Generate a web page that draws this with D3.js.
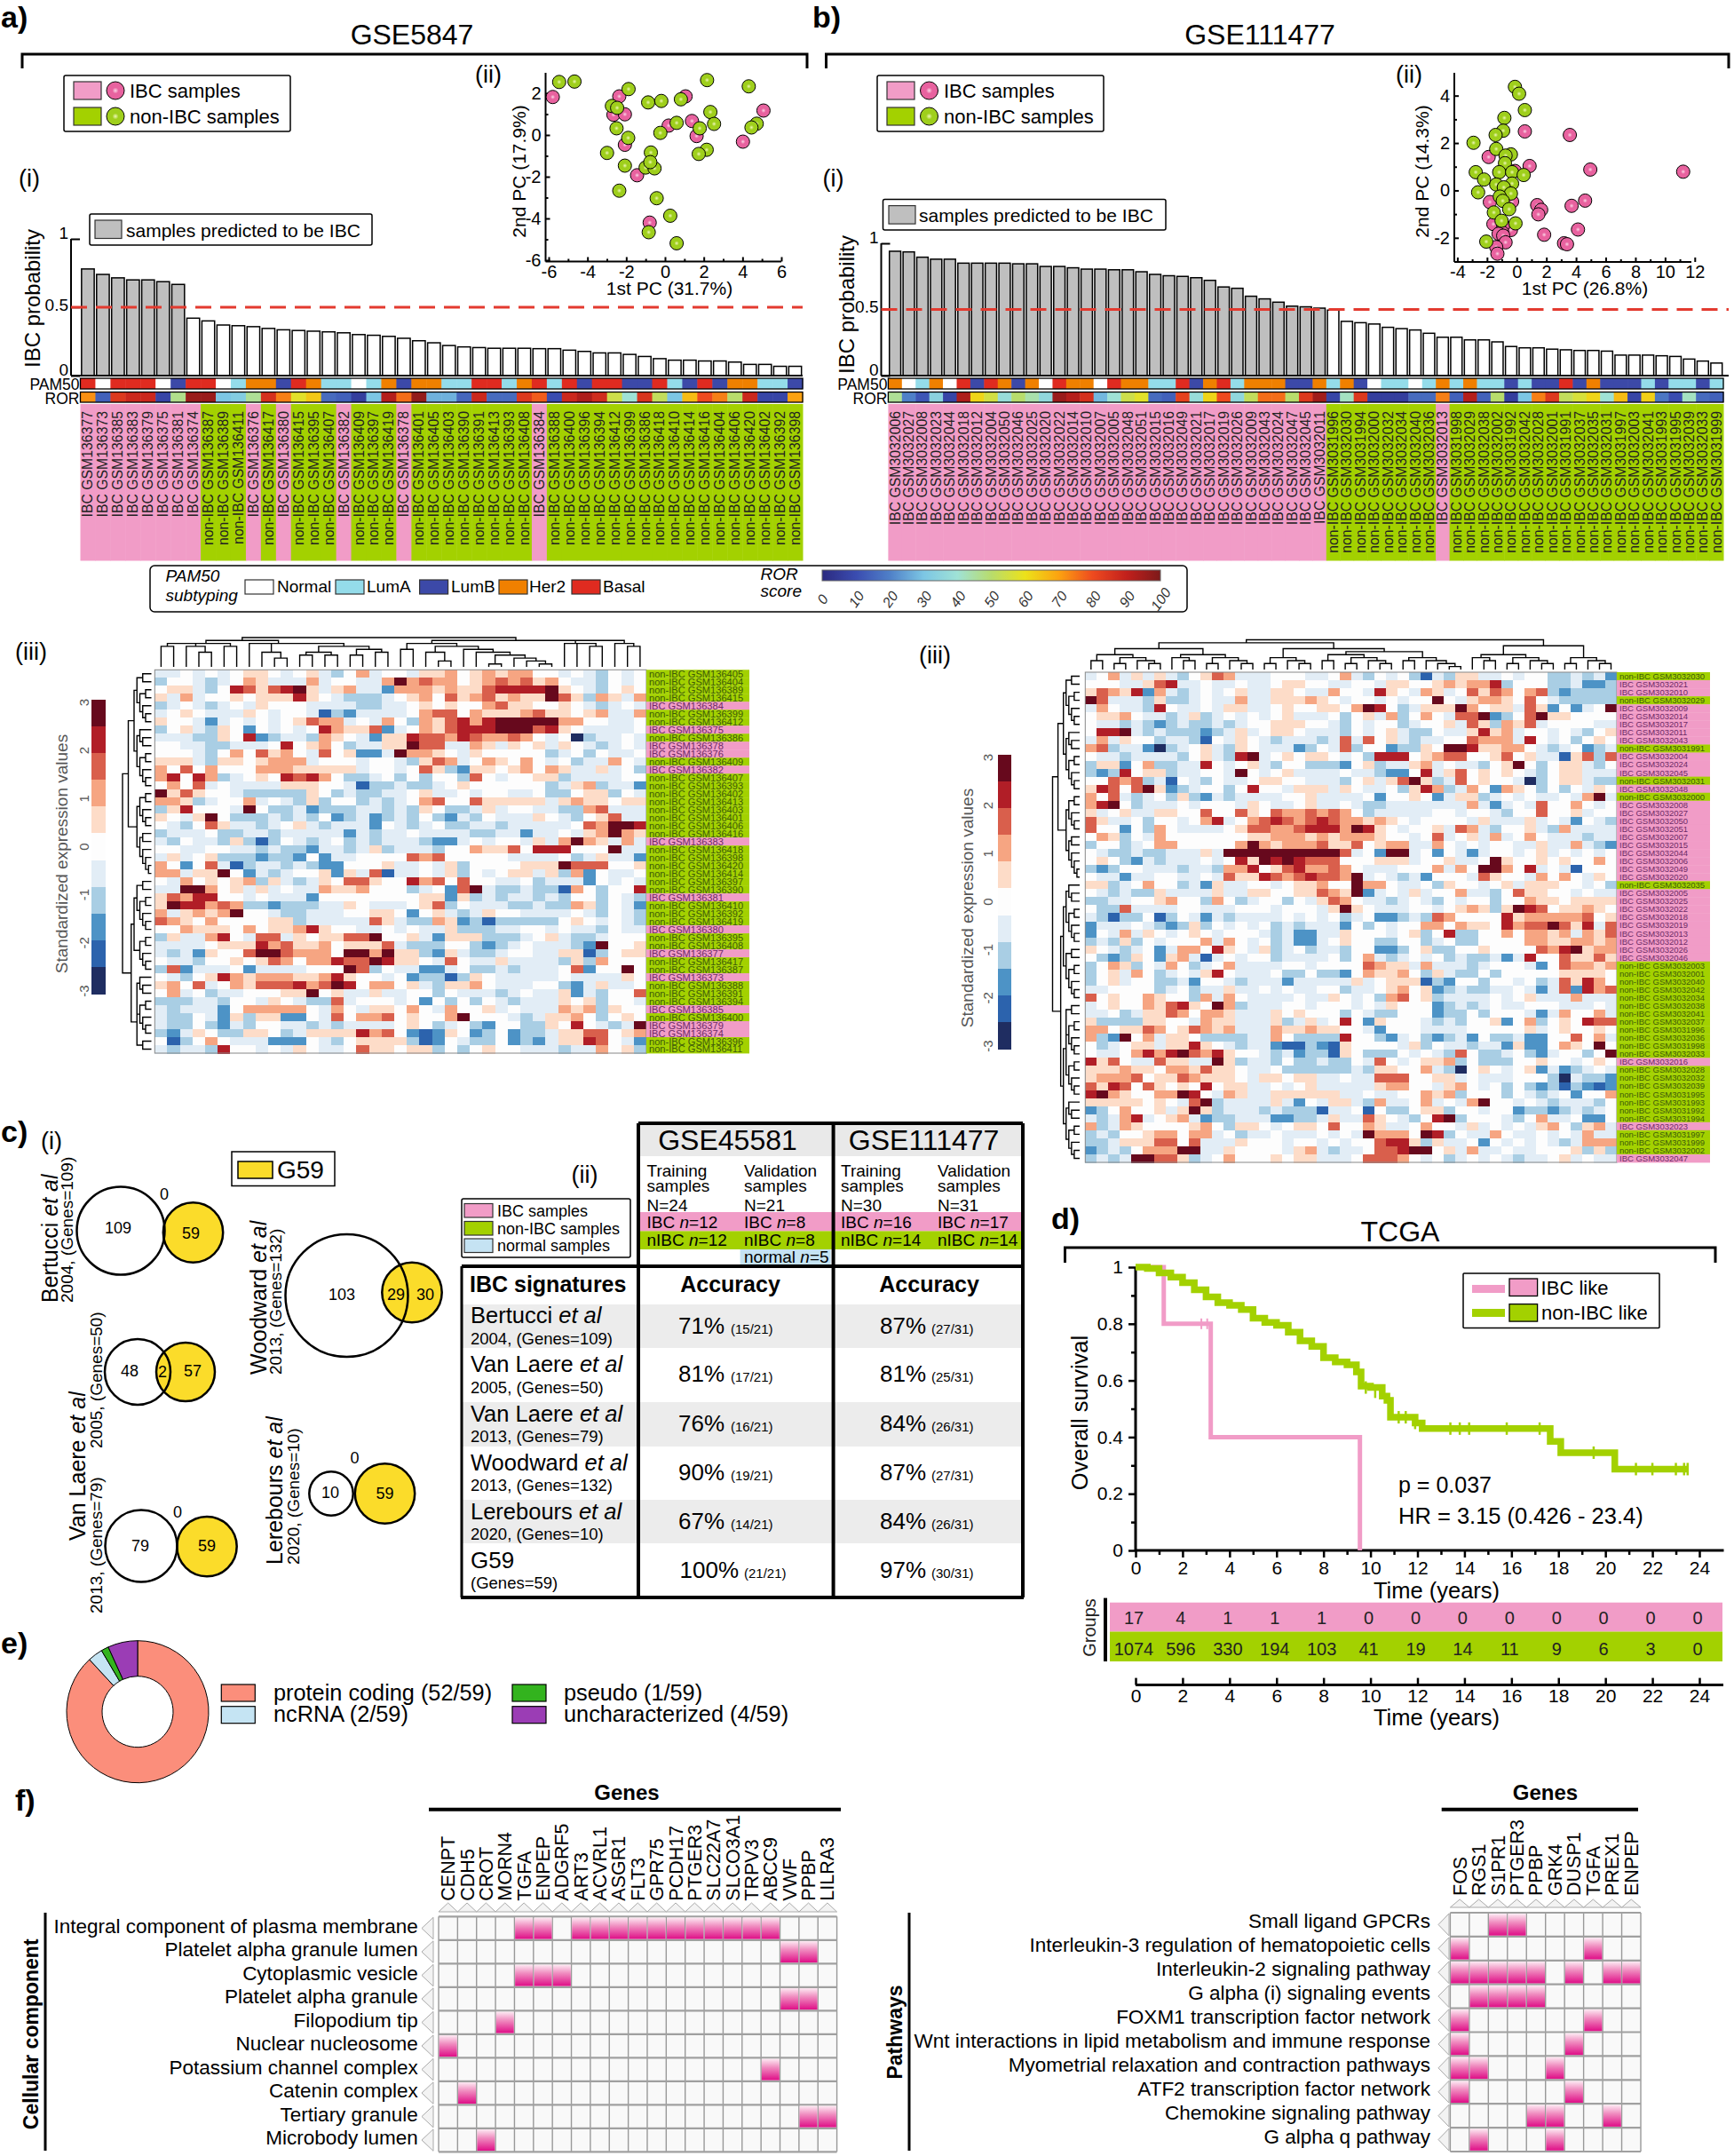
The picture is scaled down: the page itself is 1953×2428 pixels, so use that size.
<!DOCTYPE html>
<html><head><meta charset="utf-8"><style>html,body{margin:0;background:#fff}svg{display:block}</style>
<script src="https://cdnjs.cloudflare.com/ajax/libs/d3/7.8.5/d3.min.js"></script></head><body><svg id="c" width="1953" height="2428"></svg>
<script>
// ---------- DATA ----------
const probA=[.78,.74,.715,.70,.70,.687,.667,.42,.40,.37,.365,.358,.345,.335,.33,.325,.32,.313,.30,.295,.287,.273,.255,.24,.22,.21,.205,.2,.2,.2,.197,.197,.186,.177,.166,.166,.155,.14,.124,.113,.113,.107,.107,.099,.082,.082,.068,.068];
const idsA=[136377,136373,136385,136383,136379,136375,136381,136374,136387,136389,136411,136376,136417,136380,136415,136395,136407,136382,136409,136397,136419,136378,136401,136405,136403,136390,136391,136413,136393,136408,136384,136388,136400,136396,136394,136412,136399,136386,136418,136410,136414,136416,136404,136406,136420,136402,136392,136398];
const pamA="BNBBBNDBBNLHHDBHLLNLHDHHLLBBLHBLBDBBDDBLDBDHHLLD".slice(0,48);
const rorA=[72,14,84,88,88,8,47,96,96,30,32,46,86,74,58,64,16,14,6,30,92,76,97,27,27,15,88,16,16,84,78,10,88,93,87,54,40,85,52,30,66,80,74,50,88,8,8,70];
const probB=[.94,.935,.895,.88,.88,.85,.85,.85,.85,.845,.845,.825,.825,.815,.805,.805,.80,.80,.785,.765,.755,.75,.74,.72,.67,.66,.60,.58,.555,.525,.52,.51,.495,.41,.40,.39,.365,.355,.345,.32,.29,.29,.27,.27,.255,.22,.21,.21,.20,.195,.19,.19,.185,.155,.155,.155,.15,.145,.125,.11,.095];
const idsB=[3032006,3032027,3032008,3032023,3032044,3032018,3032012,3032004,3032050,3032046,3032025,3032020,3032022,3032014,3032010,3032007,3032005,3032048,3032051,3032015,3032016,3032049,3032021,3032017,3032019,3032026,3032009,3032043,3032024,3032047,3032045,3032011,3031996,3032030,3031994,3032000,3032032,3032034,3032040,3032036,3032013,3031998,3032029,3032038,3032002,3031992,3032042,3032028,3032001,3031991,3032037,3032035,3032031,3031997,3032003,3032041,3031993,3031995,3032039,3032033,3031999];
const ibcB=new Set(idsB.slice(0,32).concat([3032013,3032016]));
const pamB="HNLHNBDBHDHNBHHNBHHLLBDHBLHHHDDHLHDNLLNLHLHLLDLDDBDHDDDLDLLDL";
const rorB=[46,20,12,34,8,93,62,55,38,50,44,36,96,92,86,28,40,54,58,16,14,82,38,62,80,36,52,76,76,50,84,95,8,42,84,6,6,6,16,16,74,14,92,14,50,6,30,74,84,52,56,62,40,66,8,63,18,10,42,16,14];
const pcaAPink=[[-5.79,1.82],[-2.36,1.85],[-2.66,.97],[-2.07,.99],[1.06,1.85],[-2.07,-.47],[.19,.45],[1.39,.67],[1.63,-.05],[5.08,1.17],[4.02,-.32],[-1.44,-1.93],[-.79,-4.2]];
const pcaAGreen=[[-5.46,2.54],[-4.67,2.56],[-1.88,2.2],[-2.74,1.39],[-2.47,1.3],[-.87,1.56],[-.19,1.63],[.82,1.71],[2.17,2.63],[4.32,2.33],[2.34,1.1],[-2.5,.32],[-1.9,-.14],[.6,.58],[-.24,.1],[1.79,.32],[2.53,.53],[4.73,.54],[4.46,.36],[-2.99,-.86],[-.73,-.84],[2.15,-.71],[1.74,-.91],[-2.07,-1.47],[-1,-1.56],[-.54,-1.6],[-.76,-1.3],[-2.36,-2.67],[-.43,-3.03],[.27,-3.87],[-.84,-4.66],[.6,-5.19]];
const pcaBPink=[[.55,2.49],[3.58,2.34],[-1.89,1.41],[.87,1.03],[4.96,.88],[11.22,.79],[-.12,.82],[-1.81,-.49],[-.31,-.47],[4.61,-.43],[3.7,-.65],[1.38,-.62],[1.65,-.82],[1.46,-1.01],[-1.57,-1.42],[-.39,-1.67],[4.13,-1.65],[-.91,-1.47],[-.98,-1.77],[1.85,-1.87],[-1.22,-1.83],[-.91,-1.91],[-.75,-2.19],[3.19,-2.23],[3.39,-2.27],[-1.38,-2.39],[-1.3,-2.67]];
const pcaBGreen=[[-.12,4.37],[.16,4.08],[.55,3.39],[-.83,3.06],[-.91,2.52],[-1.42,2.34],[-2.91,2.01],[-1.38,1.75],[-.39,1.52],[-.75,1.47],[-.79,1.15],[-1.18,.77],[-.31,.77],[-2.76,.77],[.47,.65],[-2.2,.46],[-.31,.29],[-1.38,.25],[-.87,.13],[-2.6,-.08],[-.39,-.13],[-1.14,-.26],[-.94,-.44],[-.51,-.79],[-1.54,-.93],[-.08,-1.39],[-1.02,-1.28],[-2.05,-2.16]];
const heatA=["aa0a0 a0110 a01ab 02a00 a1120 12122 00a0a b0a0","b00ab a021a aa2a0 0aa25 23220 12323 120aa b0a0","011ab 04313 451a1 2aac2 22121 13444 4510a b010","1a2a0 01011 1410a bbba0 12031 23121 1531b 21a2","ba0ab a0a10 00aaa abbaa 01010 02311 0010a ba0a","a010a aa10a 00adb caaaa 02330 21112 31101 2aa2","100ac a0a0a 01322 a0a20 b2134 24555 55220 0aa0","b01ab 10c0a 0a042 113ca 02134 44555 3410a aaa0","aaabb 104cb aab21 0ac11 43324 32232 0a0eb aa0a","00aab baaa0 40120 baa11 533aa 21a10 1a10a ba0a","000ab 02031 20a30 1cca5 2210a 10000 0ba0b 0aa0","111ab 11012 22a00 0a00a b132a 02102 0a0ba a20a","20302 00022 21111 1a00a 031bc 11012 021aa 1a0b","24042 ba010 43420 bba0b 0b00b 30a00 11baa aa00","0203a 0aaaa 11100 adbba bba01 00000 0ba12 baac","51310 0abbb bb10b abbaa 01aa0 a00aa 0bb01 1b0a","221ba 002a0 ab1b0 0baba 02300 31111 1a121 1011","b1400 0a50b bacbb baaba b10bb a1a00 aabb2 3aaa","10a15 0bbba bab0c bacba b0bca b0aaa 10ab0 13aa","0ab03 1aaba 01aba aac0a ba0bb aabaa aaa03 2554","baaa0 bbaab aaaaa cabaa 0aaaa bbaac aa0a1 2521","ab0aa b1bdb 0aba0 babaa abcca 0a00a 1a252 1a2a","00aa0 0aaba bbcaa ba1ba aab00 21130 44400 05aa","a1a01 bbbcb bc0ca a0000 32300 000aa aa0ba 1aac","20c03 adbaa babcc 0001a a0a1b 00001 11533 3001","22a11 50cab a001c 1a3da a0a1b 0a011 a1b2c 0aa0","0a201 012b1 aba10 33100 42303 00aa0 baaac 0a0a","aa552 01a1a 0aa21 12000 ba0c3 5abba bbd20 b004","13244 00a0a aac00 00000 011c1 babaa bab00 b0ab","15442 32bbc bbbaa 10aaa 013b0 aaabb abb21 b0ac","2a121 2500a bbaaa 00110 c01ab a100a aaa0a b0ab","32102 00001 1baaa aa31a bb21c bdbbb bb010 a0ab","00211 10201 12410 0aa0a 0aa1b bbaa0 0a0aa b0aa","b1aa2 40a33 a1011 33500 1ac11 1bbba 01abb a000","aaaa0 11142 31120 1113a bbb00 bcba0 aaabc 5001","abac1 00355 32220 55251 1bc1a bba00 aa11d b011","0aab0 01013 20224 33541 10a30 aa1aa aab1b 2000","b3caa a0caa aa000 53b0a acca0 bbaba aa03c 0050","0ab01 42122 21124 100a0 cbbdb 10aaa aa0aa aa10","1203a 02133 34235 40220 1ab11 20aaa 00bca 1aa0","02a0b aa000 11501 aa1aa 00b0a aaba0 aa1ca b003","bbbaa b00a1 0abb3 a000a 0c0b0 b0aba aa101 b00a","abaaa c0222 220a2 0a110 20a20 01a0a aa212 b100","abb0a c1b11 cc0a3 02230 10025 000ab a1120 b010","abb0b cab00 aabab aaaa0 10ba0 bc00b b1040 aba5","bca10 bb110 ba111 14230 cdc10 cb0cb ba113 3012","0db02 0aaac cc0ab 01111 bdc0a bb0cb ca114 30ac","abaab 400a0 a10aa 03110 11b0b 0100a aabaa 201b"];
const heatB=["a02a1 a1ab0 132aa a000a a02ab 0a0bd ab11a a0a00 bbaba c","000aa 134aa 0aa0a a0110 0aa00 a1100 12122 4b000 bbacc b","13214 c2aba 0a01a a110a a200a 410a2 1a031 32023 bcbbb b","53aaa b1bba 0aa2a a1112 10a00 a0a00 50a12 21030 abbbb b","a20aa b40aa 0a11a a0100 11025 40ba1 11520 11a31 c0ca0 5","01120 aaba1 ba0a0 a01aa a0b01 a2b02 0a335 cb035 11000 0","0aaba bcbab baba0 01110 0ab0a 00ba0 01a31 b213a 0000a a","0445a babbb cba1a 0110a aab0a 01abb 0aa14 12a00 a0ab0 1","a2a10 0baab d0a10 abaaa ba3a3 01aba a0032 22a40 a0b01 0","23baa ceba0 1ab10 aaacb 0a3b0 0cbb1 05541 1220a ba0cb a","0aaba aaab0 1ab45 a0101 10a0b 44401 23300 1301a ad13b 3","b11c0 2bbaa 40a01 ab00b bbc01 baa12 a0aab 0150b 011ab 0","bcb40 11baa 00a50 a01aa aa0aa bcc04 a1301 010ab 011aa a","00323 bad0a b0aa0 1100a aab01 a1351 ba301 00aeb 011ab b","14303 51cba 00b04 00a11 1a10a a0b14 2ba20 c210b 0b0a1 0","203ab a0b1b cabaa aa001 aaaa0 c0010 ca11b a0a0a a0a25 a","2450b aaa0a 000a1 0aa01 aa0ab baaaa aaa2a ca0a3 0020a 0","1a01a a1100 30031 03223 2320b aaaaa 00a00 ab003 001a0 0","31aa0 b00a0 24a02 34323 43221 210a0 000a1 aaa1a 0ac0a b","300c0 b20aa aa013 32234 44254 10a00 1a32a b001a b2aaa a","021b0 a2000 00001 12221 21222 100a0 3a01a 2a020 aaaba a","b00ba 02200 00025 21222 31130 122aa 20a0a 00aa1 aa2ab c","0abba bbaaa 1a555 55555 553a0 c55a0 c0aca 00a01 a0a0a 0","010bc abaaa 0a041 54543 33000 111a0 01aa0 51001 01002 0","bcb00 aaaba ab224 01342 2320a aa000 2a205 5204a 0ad00 0","0aaca a00aa 0a311 43234 3325a 0abac 000a3 100a2 020a1 0","11ba0 200ba c1aa0 0a011 20052 20aa0 b100a 01a11 100a0 b","0abab b1aaa a1aa1 10011 3215c a0a1a 002aa b0311 00a0a a","bbaa0 01200 b20ba 00b0a 1320a aba0a b0a00 b0021 10111 1","0bb3a aaa00 aaa00 0a000 a1510 aaa00 a0121 b1543 01121 0","abdbb 0db0a cabaa aa0a0 a0ba0 ccbab 32000 04122 22230 1","caaa0 abcb1 b0a0a 0baba aac0b 0a002 20211 04233 5314a 3","c0a2a 10a01 0a000 abacc aa100 0a01b 04bb0 02022 12a21 3","bab1b 0a000 2a20a 0bacc a0100 bb00b a0bb0 00022 11221 2","10aba 0ca22 0410a 1ba0b aab00 ccb01 bb001 00003 24512 2","0bcb1 0c12a da0a0 0baaa a0b02 aba0a 0babb aca40 03113 1","b021b 0a20b a02aa aa00a 00003 211a2 aaaba 000ac 03221 2","b01a2 0ba0a 140aa a0bb0 bbc02 1120b 1abb0 b0000 01111 0","b01a0 0bbac 00aba aacaa aaa1a 0111d bc00b 00a0b a3142 0","aa000 0ba0b aa1aa 0a0aa 00baa 01201 cbabb aa0ac a3c42 3","30100 2100b 2a20a aaa0a a10a0 b2301 baaaa 0a01a aa2aa a","a0100 21341 052ba aa00a 000a0 a1000 cbaba 0aa00 0aaa0 a","aa0ba 11320 221aa a1010 00b0a bb000 cbb0b 000ac a2002 a","1bbbb 1100a 211aa a1ba1 a040c 1000a bab00 1c02b 01043 3","22011 32013 212aa a2112 1100a c000a aaa00 0001a 01001 0","2bc50 2a110 bbbba a20bb bb400 bca0b cbac0 bbacc 00302 a","0ba01 1a114 10aba acddb cd100 00a1b 0aaba ac1cc 02105 0","0aa02 42453 24100 abacb bd10b bb0a0 ab30b ba0bc a00b0 5","4130a a311a a51ba ab0bb abb0a 30a01 12b0b bb001 00a01 0","11121 10221 3110a a0bbb bbbab 11002 abe01 0a01c acba0 a","12223 01132 1110a 11011 aa0aa 33300 11a0a aa000 beabb c","31430 31010 4011a a0a01 aaaaa 12200 a120a 0b0bc bdbcd c","45210 02254 0a21a a1111 11aa0 aa002 12b00 0b0ab a0c00 2","11111 010a3 5baaa a1ac0 a11ab 2aa02 a0a25 00a0a baaab 0","cb020 01a15 1baaa babbb daa0d 0bb01 1b00a 00cbb cbaba 0","aba24 a012a cbbaa accbb a1aa3 10ab0 45b00 0ab02 aa0cc 0","2ba21 00001 20b11 0a011 03002 1aa02 00a1a 0a0a1 20b12 a","bab00 12202 2a0ba a0aaa 0a0a5 22205 4b0aa 20aa0 a0a2a a","bba11 13303 aaa10 00a00 a0a00 3441b 1aa0c 0a0a0 aba22 2","cbab0 22255 aa100 00a12 abaa0 33455 01a2a a0aa0 001b1 b","baba5 5331b a0200 01011 aaa03 3320a 0ba0a 0abaa 01a0a a"];
const heatLabelsA=[136405,136404,136389,136415,136384,136399,136412,136375,136386,136378,136376,136409,136382,136407,136393,136402,136413,136403,136401,136406,136416,136383,136418,136398,136420,136414,136397,136390,136381,136410,136392,136419,136380,136395,136408,136377,136417,136387,136373,136388,136391,136394,136385,136400,136379,136374,136396,136411];
const heatLabelsB=[3032030,3032021,3032010,3032029,3032009,3032014,3032017,3032011,3032043,3031991,3032004,3032024,3032045,3032031,3032048,3032000,3032008,3032027,3032050,3032051,3032007,3032015,3032044,3032006,3032049,3032020,3032035,3032005,3032025,3032022,3032018,3032019,3032013,3032012,3032026,3032046,3032003,3032001,3032040,3032042,3032034,3032038,3032041,3032037,3031996,3032036,3031998,3032033,3032016,3032028,3032032,3032039,3031995,3031993,3031992,3031994,3032023,3031997,3031999,3032002,3032047];
// dendrograms: nested merges, each ")" followed by its merge height (base 36)
const A7="((..)3((..)2(.(..)2)3)4)5",B8="((.(..)3)4((..)2(.(..)2)3)4)5",C5="((..)2(.(..)2)3)4",D6="((..)3(.(.(..)1)2)3)4";
const T1="(((..)7(.(..)5)7)8(..)7)8",T2="(.((.(..)3)5(((..)4(..)4)5((..)4(..)5)6)7)8)8",T3="((..)6((.(..)2)5(.(.((..)1(.(.(..)1)2)3)4)5)6)7)8",T4="((.(.(..)7)8)8(.(..)7)8)9";
const treeTopA=`((${T1}${T2})9(${T3}${T4})9)a`;
const treeLeftA=`(((${A7}${B8})6(${C5}${D6})5)8((${A7}${C5})6(${B8}(..)3)5)7)a`;
const treeTopB=`(((${A7}${B8})7(${C5}(${A7}${D6})6)7)9(${B8}${C5})8)a`;
const treeLeftB=`(((${A7}${B8})6(${C5}${D6})5)8((${B8}${A7})6((${A7}${C5})5${B8})6)7)a`;
const vennData=[{a:"109",b:"59",mid:"0"},{a:"48",b:"57",mid:"2"},{a:"79",b:"59",mid:"0"},{a:"103",b:"30",mid:"29"},{a:"10",b:"59",mid:"0"}];
const sigNames=["Bertucci","Van Laere","Van Laere","Woodward","Lerebours","G59"];
const sigSub=["2004, (Genes=109)","2005, (Genes=50)","2013, (Genes=79)","2013, (Genes=132)","2020, (Genes=10)","(Genes=59)"];
const accA=["71%","81%","76%","90%","67%","100%"],fracA=["(15/21)","(17/21)","(16/21)","(19/21)","(14/21)","(21/21)"];
const accB=["87%","81%","84%","87%","84%","97%"],fracB=["(27/31)","(25/31)","(26/31)","(27/31)","(26/31)","(30/31)"];
const kmPink=[[0,1],[1.2,.8],[3.2,.4],[9.55,0]];
const kmPinkCensor=[[2.8,.8],[3.05,.8]];
const kmGreen=[[0,1],[.5,.995],[1,.98],[1.5,.965],[2,.945],[2.5,.92],[3,.895],[3.5,.875],[4,.865],[4.5,.85],[5,.82],[5.5,.805],[6,.795],[6.5,.77],[7,.74],[7.5,.72],[8,.68],[8.5,.665],[9,.655],[9.4,.63],[9.6,.58],[10,.575],[10.5,.545],[10.7,.53],[10.85,.47],[11.5,.47],[11.9,.45],[12.2,.43],[17.65,.385],[18.1,.345],[20.4,.287],[23.5,.287]];
const kmGreenCensor=[[9.8,.575],[10.2,.56],[11.2,.47],[11.5,.47],[11.9,.45],[13.4,.43],[13.8,.43],[14.2,.43],[15.8,.43],[17.2,.43],[19.5,.345],[21.3,.287],[22,.287],[23,.287],[23.35,.287],[23.5,.287]];
const riskTimes=[0,2,4,6,8,10,12,14,16,18,20,22,24];
const riskPink=[17,4,1,1,1,0,0,0,0,0,0,0,0];
const riskGreen=[1074,596,330,194,103,41,19,14,11,9,6,3,0];
const geneTypes=[{n:"protein coding (52/59)",v:52,c:"#fb8e7b"},{n:"ncRNA (2/59)",v:2,c:"#c5e4f3"},{n:"pseudo (1/59)",v:1,c:"#33b31e"},{n:"uncharacterized (4/59)",v:4,c:"#9b3db5"}];
const genesCC=["CENPT","CDH5","CROT","MORN4","TGFA","ENPEP","ADGRF5","ART3","ACVRL1","ASGR1","FLT3","GPR75","PCDH17","PTGER3","SLC22A7","SLCO3A1","TRPV3","ABCC9","VWF","PPBP","LILRA3"];
const termsCC=["Integral component of plasma membrane","Platelet alpha granule lumen","Cytoplasmic vesicle","Platelet alpha granule","Filopodium tip","Nuclear nucleosome","Potassium channel complex","Catenin complex","Tertiary granule","Microbody lumen"];
const hitsCC=[[4,5,7,8,9,10,11,12,13,14,15,16,17],[18,19],[4,5,6],[18,19],[3],[0],[17],[1],[19,20],[2]];
const genesPW=["FOS","RGS1","S1PR1","PTGER3","PPBP","GRK4","DUSP1","TGFA","PREX1","ENPEP"];
const termsPW=["Small ligand GPCRs","Interleukin-3 regulation of hematopoietic cells","Interleukin-2 signaling pathway","G alpha (i) signaling events","FOXM1 transcription factor network","Wnt interactions in lipid metabolism and immune response","Myometrial relaxation and contraction pathways","ATF2 transcription factor network","Chemokine signaling pathway","G alpha q pathway"];
const hitsPW=[[2,3],[0,7],[0,1,2,3,4,6,8,9],[1,2,3,4],[0,7],[0,6],[0,1,5],[0,6],[4,5,8],[1,5]];
// ---------- STYLE ----------
const F="'Liberation Sans',Arial,sans-serif";
const PINK="#f19cc7",GREEN="#a3d100",YEL="#fbdc2a";
const PAM={N:"#ffffff",L:"#94dcea",D:"#3c49a8",H:"#f08000",B:"#e02b20"};
const rorScale=d3.scaleLinear().domain([0,10,20,30,40,50,60,70,80,90,100]).range(["#2b2a80","#3a4cb0","#4f80c8","#7cc6e4","#9fe2d6","#b8dc6c","#ece21a","#fca210","#ee4a1f","#c2201c","#7d1a1a"]);
const levels=["e","d","c","b","a","0","1","2","3","4","5"];
const heatColor=d3.scaleOrdinal(levels,["#1f2d61","#2c63ad","#4d93c6","#a9cee4","#e2edf6","#fdfdfd","#fddcc8","#f6a582","#d95f4c","#b11e27","#67091d"]);
const svg=d3.select("#c").attr("font-family",F);
const defs=svg.append("defs");
function radial(id,c0,c1){const g=defs.append("radialGradient").attr("id",id);g.append("stop").attr("offset","0").attr("stop-color",c0);g.append("stop").attr("offset",".35").attr("stop-color",c1);g.append("stop").attr("offset","1").attr("stop-color",c1);}
radial("ptP","#fbd6e6","#e8629f");radial("ptG","#eef7b8","#9fcf1c");
const gg=defs.append("linearGradient").attr("id","hit").attr("x1",0).attr("x2",0).attr("y1",0).attr("y2",1);
[[0,"#fdeaf3"],[.4,"#f08dc0"],[1,"#df0e87"]].forEach(s=>gg.append("stop").attr("offset",s[0]).attr("stop-color",s[1]));
const rg=defs.append("linearGradient").attr("id","ror");
d3.range(0,101,5).forEach(v=>rg.append("stop").attr("offset",v+"%").attr("stop-color",rorScale(v)));
function T(x,y,s,size,o={}){const t=svg.append("text").attr("font-size",size).attr("fill",o.fill||"#000").attr("text-anchor",o.a||"start");
 t.attr("transform",`translate(${x},${y})`+(o.rot?` rotate(${o.rot})`:""));
 if(o.w)t.attr("font-weight",o.w);if(o.i)t.attr("font-style","italic");
 if(Array.isArray(s))s.forEach(p=>{const q=t.append("tspan").text(p[0]);if(p[1])q.attr("font-style","italic");});else t.text(s);return t;}
function R(x,y,w,h,fill,o={}){return svg.append("rect").attr("x",x).attr("y",y).attr("width",w).attr("height",h).attr("fill",fill).attr("stroke",o.s||"none").attr("stroke-width",o.sw||1).attr("rx",o.rx||0);}
function L(x1,y1,x2,y2,w=2,c="#000"){return svg.append("line").attr("x1",x1).attr("y1",y1).attr("x2",x2).attr("y2",y2).attr("stroke",c).attr("stroke-width",w);}
function bracket(x1,x2,y,y2){svg.append("path").attr("d",`M${x1},${y2}V${y}H${x2}V${y2}`).attr("fill","none").attr("stroke","#000").attr("stroke-width",3);}
function axis(orient,scale,pos,vals,o){const gen=d3[orient](scale).tickValues(vals).tickSize(o.len).tickSizeOuter(0).tickPadding(o.pad==null?4:o.pad).tickFormat(o.blank?"":(d=>String(d)));
 const vertical=orient=="axisLeft"||orient=="axisRight";
 const g=svg.append("g").attr("transform",vertical?`translate(${pos},0)`:`translate(0,${pos})`).call(gen);
 g.attr("font-family",F).attr("font-size",o.size||20);g.select(".domain").remove();g.selectAll("line").attr("stroke","#000").attr("stroke-width",o.w||2);return g;}
function ell(cx,cy,r,kind){svg.append("circle").attr("cx",cx).attr("cy",cy).attr("r",r).attr("fill",`url(#${kind})`).attr("stroke","#000").attr("stroke-width",1);}
// ---------- PANEL HEADERS ----------
T(1,31,"a)",34,{w:"bold"});T(915,31,"b)",34,{w:"bold"});
T(464,50,"GSE5847",32,{a:"middle"});T(1419,50,"GSE111477",32,{a:"middle"});
bracket(25,909,61,77);bracket(930.5,1947,61,77);
function sampleLegend(bx,bw,sx,cx,tx){R(bx,85,bw,63,"#fff",{s:"#000",sw:1.5,rx:2});
 R(sx,92,31,20,PINK,{s:"#333",sw:1.2});svg.append("ellipse").attr("cx",cx).attr("cy",102).attr("rx",10).attr("ry",10).attr("fill","url(#ptP)").attr("stroke","#000");T(tx,109.5,"IBC samples",22);
 R(sx,121,31,20,GREEN,{s:"#333",sw:1.2});svg.append("ellipse").attr("cx",cx).attr("cy",131).attr("rx",10).attr("ry",10).attr("fill","url(#ptG)").attr("stroke","#000");T(tx,139,"non-IBC samples",22);}
sampleLegend(72,255,83,130,146);sampleLegend(988,255,999,1046.5,1063);
// ---------- PCA ----------
function pca(o){const x=d3.scaleLinear().domain(o.xd).range(o.xr),y=d3.scaleLinear().domain(o.yd).range(o.yr);
 L(o.ax,o.yTop,o.ax,o.ay);L(o.ax,o.ay,o.xEnd,o.ay);
 axis("axisBottom",x,o.ay,o.xt,{len:-5,pad:4,size:20});axis("axisLeft",y,o.ax,o.yt,{len:-5,pad:5,size:20});
 axis("axisBottom",x,o.ay,o.xm,{len:-3,blank:1,pad:0});axis("axisLeft",y,o.ax,o.ym,{len:-3,blank:1,pad:0});
 o.pink.forEach(d=>ell(x(d[0]),y(d[1]),7.5,"ptP"));o.green.forEach(d=>ell(x(d[0]),y(d[1]),7.5,"ptG"));
 T(o.lx,332,o.xl,21,{a:"middle"});T(o.ylx,193,o.yl,21,{a:"middle",rot:-90});}
pca({xd:[-6,6],xr:[618,880],yd:[-6,3],yr:[293,81.5],ax:614.5,ay:294.5,yTop:82,xEnd:880,xt:[-6,-4,-2,0,2,4,6],yt:[-6,-4,-2,0,2],xm:[-5,-3,-1,1,3,5],ym:[-5,-3,-1,1],pink:pcaAPink,green:pcaAGreen,lx:754,xl:"1st PC (31.7%)",ylx:592,yl:"2nd PC (17.9%)"});
pca({xd:[-4,12],xr:[1641.4,1908.8],yd:[-3,5],yr:[294.5,81],ax:1638,ay:295,yTop:82,xEnd:1905,xt:[-4,-2,0,2,4,6,8,10,12],yt:[-2,0,2,4],xm:[-3,-1,1,3,5,7,9,11],ym:[-1,1,3],pink:pcaBPink,green:pcaBGreen,lx:1785,xl:"1st PC (26.8%)",ylx:1609,yl:"2nd PC (14.3%)"});
T(535,93,"(ii)",27);T(1572,93,"(ii)",27);T(21,210,"(i)",27);T(926.6,210,"(i)",27);
// ---------- BARS + STRIPS ----------
function bars(o){const x=d3.scaleBand().domain(d3.range(o.prob.length)).range(o.xr);const bw=o.barW,pad=(x.bandwidth()-bw)/2;
 const y=d3.scaleLinear().domain([0,1]).range([o.y0,o.y1]);
 R(o.lbx,o.lby,o.lbw,o.lbh,"#fff",{s:"#000",sw:1.5,rx:2});R(o.lsx,o.lby+7,30,20.5,"#bfbfbf",{s:"#333",sw:1.2});T(o.ltx,o.lby+25.5,"samples predicted to be IBC",21);
 svg.append("g").selectAll("rect").data(o.prob).join("rect").attr("x",(d,i)=>x(i)+pad).attr("width",bw).attr("y",d=>y(d)).attr("height",d=>y(0)-y(d))
  .attr("fill",d=>d>=.5?"#bfbfbf":"#fff").attr("stroke","#000").attr("stroke-width",1.5);
 L(o.ax,o.y1,o.ax,o.y0);L(o.ax,o.y0,o.xEnd,o.y0);
 const ga=axis("axisLeft",y,o.ax,[0,.5,1],{len:-10,pad:3,size:19});ga.selectAll(".tick line").filter(d=>d==.5).attr("opacity",.6);
 ga.selectAll(".tick text").attr("y",d=>d==.5?-3:-7);
 L(o.ax,y(.5),o.dashEnd,y(.5),3,"#e33a2f").attr("stroke-dasharray","18,10");
 T(o.tx,o.ty,"IBC probability",24,{a:"middle",rot:-90});
 svg.append("g").selectAll("rect").data(o.pam.split("")).join("rect").attr("x",(d,i)=>x(i)).attr("y",426).attr("width",x.bandwidth()+.5).attr("height",12).attr("fill",d=>PAM[d]);
 R(o.xr[0],426,o.xr[1]-o.xr[0],12,"none",{s:"#000",sw:1.3});
 svg.append("g").selectAll("rect").data(o.ror).join("rect").attr("x",(d,i)=>x(i)).attr("y",441.5).attr("width",x.bandwidth()+.5).attr("height",11.5).attr("fill",d=>rorScale(d));
 R(o.xr[0],441.5,o.xr[1]-o.xr[0],11.5,"none",{s:"#000",sw:1.3});
 T(o.xr[0]-1,438.5,"PAM50",17.5,{a:"end"});T(o.xr[0]-1,455,"ROR",17.5,{a:"end"});
 svg.append("g").selectAll("rect").data(o.ids).join("rect").attr("x",(d,i)=>x(i)).attr("y",455).attr("width",x.bandwidth()+.5).attr("height",176.5).attr("fill",d=>o.ibc(d)?PINK:GREEN);
 svg.append("g").selectAll("text").data(o.ids).join("text").attr("transform",(d,i)=>`translate(${x(i)+x.bandwidth()/2+5.5},463) rotate(-90)`).attr("text-anchor","end").attr("font-size",15.8).attr("fill","#222").text(d=>(o.ibc(d)?"IBC":"non-IBC")+" GSM"+d);}
bars({prob:probA,ids:idsA,pam:pamA,ror:rorA,ibc:d=>d<=136385,xr:[90.5,904],barW:14.3,y0:423,y1:269,ax:80,xEnd:904,dashEnd:904,lbx:101,lby:241,lbw:318,lbh:35,lsx:107,ltx:142,tx:45,ty:336});
bars({prob:probB,ids:idsB,pam:pamB,ror:rorB,ibc:d=>ibcB.has(d),xr:[1000.4,1941],barW:12.8,y0:423,y1:274,ax:992.5,xEnd:1947,dashEnd:1947,lbx:994.5,lby:224.6,lbw:318.5,lbh:34.5,lsx:1001,ltx:1035,tx:962,ty:343});
// ---------- PAM50 / ROR legend ----------
R(169,637,1168,52,"#fff",{s:"#000",sw:1.5,rx:5});
T(186.5,655,"PAM50",19,{i:1});T(186.5,677,"subtyping",19,{i:1});
[["N","Normal",276,312],["L","LumA",378,413],["D","LumB",472.6,508],["H","Her2",562,596],["B","Basal",644,679]].forEach(d=>{R(d[2],653,32,16,PAM[d[0]],{s:"#333",sw:1.2});T(d[3],667,d[1],19);});
T(856.5,653,"ROR",19,{i:1});T(856.5,672,"score",19,{i:1});
R(926,642,381,12,"url(#ror)",{s:"#666",sw:1});
const rorX=d3.scaleLinear().domain([0,100]).range([926,1307]);
d3.range(0,101,10).forEach(v=>T(rorX(v)+5,678,v,16,{a:"middle",rot:-55,i:1,fill:"#333"}));
// ---------- HEATMAPS ----------
function parseTree(s){let i=0,leaf=0;function node(){if(s[i]=="."){i++;return{h:0,idx:leaf++};}i++;const ch=[];while(s[i]!=")"&&i<s.length)ch.push(node());i++;const h=parseInt(s[i],36);i++;return{h,children:ch};}return node();}
function tree(str,pos,hs,vert){const root=d3.hierarchy(parseTree(str));root.eachAfter(n=>{n.p=n.children?d3.mean(n.children,c=>c.p):pos(n.data.idx);});
 const d=[];root.descendants().forEach(n=>{if(!n.children)return;const a=n.children[0],b=n.children[n.children.length-1],H=hs(n.data.h),Ha=hs(a.data.h),Hb=hs(b.data.h);
  d.push(vert?`M${a.p},${Ha}V${H}H${b.p}V${Hb}`:`M${Ha},${a.p}H${H}V${b.p}H${Hb}`);});
 svg.append("path").attr("d",d.join("")).attr("fill","none").attr("stroke","#000").attr("stroke-width",1.4);}
function heat(o){const rows=o.rows.map(r=>r.replace(/ /g,"").split(""));const nc=o.nc;
 const x=d3.scaleBand().domain(d3.range(nc)).range(o.xr),y=d3.scaleBand().domain(d3.range(rows.length)).range(o.yr);
 const g=svg.append("g").attr("shape-rendering","crispEdges");
 g.selectAll("g").data(rows).join("g").attr("transform",(d,i)=>`translate(0,${y(i)})`).selectAll("rect").data(d=>d.slice(0,nc)).join("rect").attr("x",(d,i)=>x(i)).attr("width",x.bandwidth()+.6).attr("height",y.bandwidth()+.6).attr("fill",d=>heatColor(d));
 R(o.xr[0],o.yr[0],o.xr[1]-o.xr[0],o.yr[1]-o.yr[0],"none",{s:"#888",sw:1});
 svg.append("g").selectAll("rect").data(o.labels).join("rect").attr("x",o.xr[1]).attr("y",(d,i)=>y(i)).attr("width",o.lw).attr("height",y.bandwidth()+.4).attr("fill",d=>o.ibc(d)?PINK:GREEN);
 svg.append("g").selectAll("text").data(o.labels).join("text").attr("x",o.xr[1]+3).attr("y",(d,i)=>y(i)+y.bandwidth()/2+o.ls*.36).attr("font-size",o.ls).attr("fill",d=>o.ibc(d)?"#6d2a66":"#3d5a0a").text(d=>(o.ibc(d)?"IBC":"non-IBC")+" GSM"+d);
 tree(o.top,i=>x(i)+x.bandwidth()/2,d3.scaleLinear().domain([0,10]).range(o.topR),true);
 tree(o.left,i=>y(i)+y.bandwidth()/2,d3.scaleLinear().domain([0,10]).range(o.leftR),false);
 const cb=d3.scaleBand().domain(levels.slice().reverse()).range(o.cbY);
 svg.append("g").attr("shape-rendering","crispEdges").selectAll("rect").data(cb.domain()).join("rect").attr("x",o.cbX).attr("y",d=>cb(d)).attr("width",o.cbW).attr("height",cb.bandwidth()+.5).attr("fill",d=>heatColor(d));
 const cbS=d3.scaleLinear().domain([3,-3]).range([o.cbY[0]+3,o.cbY[1]-3]);
 d3.range(-3,4).forEach(v=>T(o.cbT,cbS(v),v,15,{a:"middle",rot:-90,fill:"#555"}));
 T(o.cbL,(o.cbY[0]+o.cbY[1])/2+(o.cbLdy||0),"Standardized expression values",19,{a:"middle",rot:-90,fill:"#555"});}
heat({rows:heatA,nc:39,xr:[174.3,728],yr:[754.3,1186],labels:heatLabelsA,ibc:d=>d<=136385,lw:116,ls:11.1,top:treeTopA,left:treeLeftA,topR:[751,718],leftR:[170.5,138],cbX:103,cbW:16,cbY:[788,1119],cbT:100,cbL:76,cbLdy:8});
heat({rows:heatB,nc:46,xr:[1222.3,1821],yr:[757,1309],labels:heatLabelsB,ibc:d=>ibcB.has(d),lw:105,ls:9.5,top:treeTopB,left:treeLeftB,topR:[754,720.5],leftR:[1216,1185.5],cbX:1124,cbW:15,cbY:[850,1181],cbT:1118,cbL:1096,cbLdy:7});
T(17,743,"(iii)",27);T(1035,747,"(iii)",27);
// ---------- PANEL c ----------
T(1,1286,"c)",34,{w:"bold"});T(46,1294,"(i)",27);
const vennLayout=[{ax:136,ay:1386,ar:49.5,bx:217.5,by:1388,br:33.7,tx:133,ty:1382,ux:215,uy:1388,mx:185,my:1344},
{ax:155,ay:1545,ar:37,bx:209,by:1545,br:33,tx:146,ty:1543,ux:217,uy:1543,mx:183,my:1544},
{ax:159,ay:1741,ar:40.5,bx:233,by:1741.6,br:33.7,tx:158,ty:1740,ux:233,uy:1740,mx:200,my:1702},
{ax:390.5,ay:1459,ar:69,bx:464,by:1455.5,br:33.7,tx:385,ty:1457,ux:479,uy:1457,mx:446,my:1457},
{ax:373,ay:1682,ar:24.7,bx:433.5,by:1682,br:33.7,tx:372,ty:1680,ux:433.5,uy:1681,mx:399.5,my:1641}];
vennLayout.forEach((p,i)=>{const d=vennData[i];
 svg.append("circle").attr("cx",p.ax).attr("cy",p.ay).attr("r",p.ar).attr("fill","#fff");
 svg.append("circle").attr("cx",p.bx).attr("cy",p.by).attr("r",p.br).attr("fill",YEL).attr("stroke","#000").attr("stroke-width",2.5);
 svg.append("circle").attr("cx",p.ax).attr("cy",p.ay).attr("r",p.ar).attr("fill","none").attr("stroke","#000").attr("stroke-width",2.5);
 T(p.tx,p.ty+7,d.a,18,{a:"middle"});T(p.ux,p.uy+7,d.b,18,{a:"middle"});T(p.mx,p.my+7,d.mid,18,{a:"middle"});});
T(65,1467,[["Bertucci "],["et al",1]],25,{rot:-90});T(82,1467,"2004, (Genes=109)",19,{rot:-90});
T(96,1735,[["Van Laere "],["et al",1]],25,{rot:-90});T(115,1631,"2005, (Genes=50)",19,{rot:-90});T(115,1817,"2013, (Genes=79)",19,{rot:-90});
T(300,1548,[["Woodward "],["et al",1]],25,{rot:-90});T(316.5,1548,"2013, (Genes=132)",19,{rot:-90});
T(318,1762,[["Lerebours "],["et al",1]],25,{rot:-90});T(336.5,1762,"2020, (Genes=10)",19,{rot:-90});
R(261,1297,116,38.5,"#fff",{s:"#000",sw:1.5});R(268,1308,39,19,YEL,{s:"#000",sw:1.5});T(312,1327,"G59",28);
T(643.5,1332,"(ii)",27);
R(520,1350,190,66,"#fff",{s:"#000",sw:1.5,rx:2});
[[1355.5,PINK,"IBC samples",1370],[1375.5,GREEN,"non-IBC samples",1390],[1395,"#c5e3f3","normal samples",1409]].forEach(d=>{R(523,d[0],32,15.5,d[1],{s:"#333",sw:1.2});T(560,d[3],d[2],18);});
// table
R(719,1265,433,37,"#e9e9e9");
R(719,1365,433,21.4,PINK);R(719,1386.4,433,20.6,GREEN);R(833.6,1407,102,18.5,"#c5e3f3");
T(819.5,1295,"GSE45581",32,{a:"middle"});T(1040.6,1295,"GSE111477",32,{a:"middle"});
[[728.5,"Training","N=24","IBC ","12","nIBC ","12"],[838,"Validation","N=21","IBC ","8","nIBC ","8"],[947,"Training","N=30","IBC ","16","nIBC ","14"],[1056,"Validation","N=31","IBC ","17","nIBC ","14"]].forEach(c=>{
 T(c[0],1324.5,c[1],19);T(c[0],1341.6,"samples",19);T(c[0],1364,c[2],19);
 T(c[0],1382.7,[[c[3]],["n",1],["="+c[4]]],19);T(c[0],1402.7,[[c[5]],["n",1],["="+c[6]]],19);});
T(838,1422,[["normal "],["n",1],["=5"]],19);
const rowBands=[[1469,1518],[1518,1579],[1579,1629],[1629,1689],[1689,1738],[1738,1795]];
rowBands.forEach((b,i)=>{if(i%2==0&&i<5)R(520,b[0],632,b[1]-b[0],"#ececec");});
T(529,1455,"IBC signatures",25,{w:"bold"});T(822.5,1455,"Accuracy",25,{w:"bold",a:"middle"});T(1046.6,1455,"Accuracy",25,{w:"bold",a:"middle"});
const nameY=[1490,1545,1601,1655.5,1711,1765.6],subY=[1513.6,1569,1624,1679,1734,1789],accY=[1501.6,1556,1612,1667,1722,1777];
sigNames.forEach((n,i)=>{T(530,nameY[i],i<5?[[n+" "],["et al",1]]:n,i<5?25.5:26);T(530,subY[i],sigSub[i],18.5);
 T(i==5?765.5:764,accY[i],accA[i],26);T(i==5?838:823,accY[i],fracA[i],15);T(991,accY[i],accB[i],26);T(1049,accY[i],fracB[i],15);});
L(719,1265,1152,1265,4);L(719,1265,719,1799,4);L(938.6,1265,938.6,1799,4);L(1152,1265,1152,1799,4);L(520,1426,1152,1426,4);L(520,1426,520,1799,3);L(519,1799,1153,1799,4);
// ---------- PANEL d ----------
T(1184,1383.6,"d)",34,{w:"bold"});T(1577,1398,"TCGA",32,{a:"middle"});bracket(1199.5,1932,1405,1422);
const kx=d3.scaleLinear().domain([0,24]).range([1279,1914]),ky=d3.scaleLinear().domain([0,1]).range([1746,1427]);
const even=d3.range(0,25,2),odd=d3.range(1,25,2);
L(1279,1427,1279,1746,3);L(1279,1746,1941.5,1746,3);
axis("axisBottom",kx,1746,even,{len:8,pad:4,size:21,w:2.5});axis("axisBottom",kx,1746,odd,{len:5,blank:1,pad:0,w:2.5});
axis("axisLeft",ky,1279,[0,.2,.4,.6,.8,1],{len:8,pad:6,size:21,w:2.5});axis("axisLeft",ky,1279,[.1,.3,.5,.7,.9],{len:5,blank:1,pad:0,w:2.5});
T(1618,1800,"Time (years)",25.5,{a:"middle"});T(1225,1591,"Overall survival",25.5,{a:"middle",rot:-90});
const step=d3.line().x(d=>kx(d[0])).y(d=>ky(d[1])).curve(d3.curveStepAfter);
svg.append("path").attr("d",step(kmPink)).attr("fill","none").attr("stroke",PINK).attr("stroke-width",5);
kmPinkCensor.forEach(d=>L(kx(d[0]),ky(d[1])-6,kx(d[0]),ky(d[1])+6,2,PINK));
svg.append("path").attr("d",step(kmGreen)).attr("fill","none").attr("stroke",GREEN).attr("stroke-width",7.5);
kmGreenCensor.forEach(d=>L(kx(d[0]),ky(d[1])-7,kx(d[0]),ky(d[1])+7,2.5,GREEN));
R(1648,1434,221,61.5,"#fff",{s:"#000",sw:1.5,rx:1});
L(1658,1451.6,1695,1451.6,9,PINK);R(1700,1440,31.6,19.5,PINK,{s:"#000",sw:1.3});T(1735.6,1457.5,"IBC like",22);
L(1658,1478.5,1695,1478.5,9,GREEN);R(1700,1468.6,31.6,19.5,GREEN,{s:"#000",sw:1.3});T(1736,1486,"non-IBC like",22);
T(1575,1681,"p = 0.037",25);T(1575,1716,"HR = 3.15 (0.426 - 23.4)",25.5);
R(1250,1804.7,690,32.8,PINK);R(1250,1837.5,690,33.5,GREEN);L(1245,1799.6,1245,1871,4);
T(1234,1833,"Groups",20,{a:"middle",rot:-90,fill:"#222"});
riskTimes.forEach((t,i)=>{T(kx(t)-2,1828.5,riskPink[i],20,{a:"middle",fill:"#222"});T(kx(t)-2,1864,riskGreen[i],20,{a:"middle",fill:"#222"});});
L(1279,1897.6,1941,1897.6,3);axis("axisBottom",kx,1897.6,even,{len:-8,pad:4,size:21,w:2.5});
T(1618,1943,"Time (years)",25.5,{a:"middle"});
// ---------- PANEL e ----------
T(1,1862,"e)",34,{w:"bold"});
const pie=d3.pie().value(d=>d.v).sort(null);const arc=d3.arc().innerRadius(40).outerRadius(80);
svg.append("g").attr("transform","translate(155,1927.7)").selectAll("path").data(pie(geneTypes)).join("path").attr("d",arc).attr("fill",d=>d.data.c).attr("stroke","#000").attr("stroke-width",1);
[[0,249.3,1897,308,1915],[1,249.3,1921.7,308,1939],[2,577,1897,635,1915],[3,577,1921.7,635,1939]].forEach(p=>{R(p[1],p[2],38,19,geneTypes[p[0]].c,{s:"#000",sw:1.2});T(p[3],p[4],geneTypes[p[0]].n,25.3);});
// ---------- PANEL f ----------
T(17,2039,"f)",34,{w:"bold"});
function enrich(o){const x=d3.scaleBand().domain(d3.range(o.genes.length)).range(o.xr),y=d3.scaleBand().domain(d3.range(o.terms.length)).range(o.yr);
 T(o.gx,2026.7,"Genes",24,{w:"bold",a:"middle"});L(o.lx[0],2037.7,o.lx[1],2037.7,4);
 svg.append("g").selectAll("text").data(o.genes).join("text").attr("transform",(d,i)=>`translate(${x(i)+x.bandwidth()/2+7.5},${o.gy}) rotate(-90)`).attr("font-size",21.5).text(d=>d);
 svg.append("g").selectAll("path").data(o.genes).join("path").attr("d",(d,i)=>`M${x(i)},${o.ty[1]}L${x(i)+x.bandwidth()/2},${o.ty[0]}L${x(i)+x.bandwidth()},${o.ty[1]}Z`).attr("fill","#f3f3f3").attr("stroke","#aaa");
 R(o.xr[0],o.yr[0],o.xr[1]-o.xr[0],o.yr[1]-o.yr[0],"#f9f9f9");
 d3.range(o.genes.length+1).forEach(i=>{const X=i<o.genes.length?x(i):o.xr[1];L(X,o.yr[0],X,o.yr[1],1.4,"#999");});
 d3.range(o.terms.length+1).forEach(i=>{const Y=i<o.terms.length?y(i):o.yr[1];L(o.xr[0],Y,o.xr[1],Y,2.2,"#a0a0a0");});
 o.hits.forEach((r,i)=>r.forEach(j=>R(x(j)+.7,y(i)+1.2,x.bandwidth()-1.4,y.bandwidth()-2.4,"url(#hit)")));
 svg.append("g").selectAll("path").data(o.terms).join("path").attr("d",(d,i)=>`M${o.tx[1]},${y(i)+1}L${o.tx[0]},${y(i)+y.bandwidth()/2}L${o.tx[1]},${y(i)+y.bandwidth()-1}Z`).attr("fill","#f3f3f3").attr("stroke","#aaa");
 svg.append("g").selectAll("text").data(o.terms).join("text").attr("x",o.rx).attr("y",(d,i)=>y(i)+y.bandwidth()/2+(o.tdy||7)).attr("text-anchor","end").attr("font-size",22.5).text(d=>d);
 T(o.catX,(o.yr[0]+o.yr[1])/2,o.cat,23,{w:"bold",a:"middle",rot:-90});L(o.catL,2154,o.catL,2422,3);}
enrich({genes:genesCC,terms:termsCC,hits:hitsCC,xr:[494,942.6],yr:[2158.3,2423.3],gx:706,lx:[483,947],gy:2140.7,ty:[2143,2153],tx:[475,488],rx:470.7,tdy:5,cat:"Cellular component",catX:43,catL:51});
enrich({genes:genesPW,terms:termsPW,hits:hitsPW,xr:[1633.4,1848],yr:[2154,2423],gx:1740.4,lx:[1623.7,1845],gy:2135,ty:[2139,2148],tx:[1620,1632],rx:1611,tdy:4,cat:"Pathways",catX:1016,catL:1024});
</script></body></html>
